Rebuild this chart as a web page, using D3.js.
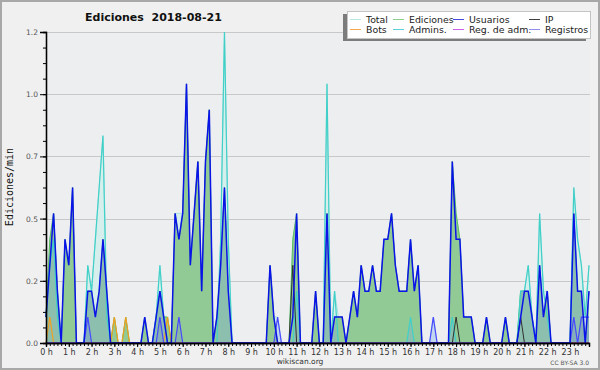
<!DOCTYPE html>
<html>
<head>
<meta charset="utf-8">
<script src="https://cdn.jsdelivr.net/npm/d3@7"></script>
<style>
	body { margin: 0; background: #ffffff; }
	svg { display: block; }
</style>
</head>
<body>
<div id="chart"></div>
<script>

// one value every 10 minutes, 144 per day (edits per minute)
var usuarios = [
	0.1,0.3,0.5,0.2,0,0.4,
	0.3,0.6,0,0,0,0.2,
	0.2,0.1,0.2,0.4,0.2,0,
	0,0,0,0,0,0,
	0,0,0.1,0,0,0.1,
	0.2,0.1,0,0,0.5,0.4,
	0.5,1.0,0.3,0.5,0.7,0.2,
	0.7,0.9,0,0.1,0.3,0.6,
	0.2,0,0,0,0,0,
	0,0,0,0,0,0.3,
	0.1,0,0,0,0,0.1,
	0.5,0,0,0,0,0.2,
	0,0,0.5,0,0.1,0.1,
	0.1,0,0.1,0.2,0.1,0.3,
	0.2,0.2,0.3,0.2,0.2,0.4,
	0.4,0.5,0.3,0.2,0.2,0.2,
	0.4,0.2,0.3,0,0,0,
	0,0,0,0,0,0.7,
	0.4,0.4,0.1,0.1,0.1,0,
	0,0,0.1,0,0,0,
	0,0.1,0,0,0,0.1,
	0.2,0.2,0.1,0,0.3,0.1,
	0.2,0,0,0,0,0,
	0,0.5,0.2,0.2,0,0.2
];

var ediciones = [
	0.1,0.4,0.5,0.2,0,0.4,
	0.3,0.6,0,0,0,0.2,
	0.2,0.1,0.2,0.4,0.2,0,
	0.1,0,0,0.1,0,0,
	0,0,0.1,0,0,0.1,
	0.2,0.1,0.1,0,0.5,0.4,
	0.5,1.0,0.3,0.5,0.7,0.2,
	0.7,0.9,0,0.1,0.3,0.6,
	0.2,0,0,0,0,0,
	0,0,0,0,0,0.3,
	0.1,0,0,0,0,0.4,
	0.5,0,0,0,0,0.2,
	0,0,0.5,0,0.1,0.1,
	0.1,0,0.1,0.2,0.1,0.3,
	0.2,0.2,0.3,0.2,0.2,0.4,
	0.4,0.5,0.3,0.2,0.2,0.2,
	0.4,0.2,0.3,0,0,0,
	0,0,0,0,0,0.7,
	0.5,0.4,0.1,0.1,0.1,0,
	0,0,0.1,0,0,0,
	0,0.1,0,0,0,0.2,
	0.2,0.2,0.1,0,0.3,0.1,
	0.2,0,0,0,0,0,
	0,0.5,0.2,0.2,0,0.2
];

var total = [
	0.1,0.4,0.5,0.2,0,0.4,
	0.3,0.6,0,0,0,0.3,
	0.2,0.4,0.6,0.8,0.2,0,
	0.1,0,0,0.1,0,0,
	0,0,0.1,0,0,0.1,
	0.3,0.1,0.1,0,0.5,0.5,
	0.5,1.0,0.3,0.5,0.7,0.2,
	0.7,0.9,0,0.1,0.4,1.2,
	0.4,0,0,0,0,0,
	0,0,0,0,0,0.3,
	0.1,0.1,0,0,0,0.4,
	0.5,0,0,0,0,0.2,
	0,0,1.0,0,0.2,0.1,
	0.1,0,0.1,0.2,0.1,0.3,
	0.2,0.2,0.3,0.2,0.2,0.4,
	0.4,0.5,0.3,0.2,0.2,0.2,
	0.4,0.2,0.3,0,0,0,
	0.1,0,0,0,0,0.7,
	0.5,0.4,0.1,0.1,0.1,0,
	0,0,0.1,0,0,0,
	0,0.1,0,0,0,0.2,
	0.2,0.3,0.1,0,0.5,0.2,
	0.2,0,0,0,0,0,
	0,0.6,0.4,0.3,0.1,0.3
];

var admins = [
	0.1,0.3,0.4,0.1,0,0,
	0,0,0,0,0,0.3,
	0.2,0.4,0.6,0.8,0.1,0,
	0,0,0,0,0,0,
	0,0,0,0,0,0.1,
	0.3,0.1,0,0,0,0,
	0,0,0,0,0,0,
	0,0,0,0,0.4,1.2,
	0.4,0,0,0,0,0,
	0,0,0,0,0,0,
	0,0,0,0,0,0,
	0.2,0,0,0,0,0,
	0,0,1.0,0,0.2,0,
	0,0,0,0,0,0,
	0,0,0,0,0,0,
	0,0,0,0,0,0,
	0.1,0,0,0,0,0,
	0,0,0,0,0,0.1,
	0,0,0,0,0,0,
	0,0,0,0,0,0,
	0,0,0,0,0,0.2,
	0.2,0.3,0.1,0,0.5,0.2,
	0.1,0,0,0,0,0,
	0,0.6,0.4,0.3,0.1,0.3
];

var bots = [
	0,0.1,0,0,0,0,
	0,0,0,0,0,0,
	0,0,0,0,0,0,
	0.1,0,0,0.1,0,0,
	0,0,0,0,0,0,
	0,0,0.1,0,0,0,
	0,0,0,0,0,0,
	0,0,0,0,0,0,
	0,0,0,0,0,0,
	0,0,0,0,0,0,
	0,0,0,0,0,0,
	0,0,0,0,0,0,
	0,0,0,0,0,0,
	0,0,0,0,0,0,
	0,0,0,0,0,0,
	0,0,0,0,0,0,
	0,0,0,0,0,0,
	0,0,0,0,0,0,
	0,0,0,0,0,0,
	0,0,0,0,0,0,
	0,0,0,0,0,0,
	0,0,0,0,0,0,
	0,0,0,0,0,0,
	0,0,0,0,0,0
];

var ip = [
	0,0,0,0,0,0,
	0,0,0,0,0,0,
	0,0,0,0,0,0,
	0,0,0,0,0,0,
	0,0,0,0,0,0,
	0,0,0,0,0,0,
	0,0,0,0,0,0,
	0,0,0,0,0,0,
	0,0,0,0,0,0,
	0,0,0,0,0,0,
	0,0,0,0,0,0.3,
	0,0,0,0,0,0,
	0,0,0,0,0,0,
	0,0,0,0,0,0,
	0,0,0,0,0,0,
	0,0,0,0,0,0,
	0,0,0,0,0,0,
	0,0,0,0,0,0,
	0.1,0,0,0,0,0,
	0,0,0,0,0,0,
	0,0,0,0,0,0.1,
	0,0,0,0,0,0,
	0,0,0,0,0,0,
	0,0,0,0,0,0
];

var regAdm = [
	0,0,0,0,0,0, 0,0,0,0,0,0, 0,0,0,0,0,0, 0,0,0,0,0,0,
	0,0,0,0,0,0, 0,0,0,0,0,0, 0,0,0,0,0,0, 0,0,0,0,0,0,
	0,0,0,0,0,0, 0,0,0,0,0,0, 0,0,0,0,0,0, 0,0,0,0,0,0,
	0,0,0,0,0,0, 0,0,0,0,0,0, 0,0,0,0,0,0, 0,0,0,0,0,0,
	0,0,0,0,0,0, 0,0,0,0,0,0, 0,0,0,0,0,0, 0,0,0,0,0,0,
	0,0,0,0,0,0, 0,0,0,0,0,0, 0,0,0,0,0,0, 0,0,0,0,0,0
];

var registros = [
	0,0,0,0,0,0,
	0,0,0,0,0,0.1,
	0,0,0,0,0,0,
	0,0,0,0,0,0,
	0,0,0,0,0,0,
	0.1,0,0,0,0,0.1,
	0,0,0,0,0,0,
	0,0,0,0,0,0,
	0,0,0,0,0,0,
	0,0,0,0,0,0,
	0,0.1,0,0,0,0,
	0,0,0,0,0,0,
	0,0,0,0,0,0,
	0,0,0,0,0,0,
	0,0,0,0,0,0,
	0,0,0,0,0,0,
	0,0,0,0,0,0,
	0.1,0,0,0,0,0,
	0,0,0,0,0,0,
	0,0,0,0,0,0,
	0,0,0,0,0,0,
	0,0,0,0,0,0,
	0,0,0,0,0,0,
	0,0.1,0,0.1,0.1,0.1
];

// tick values (labels are rounded to one decimal as in the original)
var yTicks = [0, 0.24, 0.48, 0.72, 0.96, 1.2];
var hourLabels = ["0 h","1 h","2 h","3 h","4 h","5 h","6 h","7 h","8 h","9 h","10 h","11 h",
	"12 h","13 h","14 h","15 h","16 h","17 h","18 h","19 h","20 h","21 h","22 h","23 h"];

// legend entries, column by column
var legendNames = ["Total", "Bots", "Ediciones", "Admins.", "Usuarios", "Reg. de adm.", "IP", "Registros"];
var legendColors = ["#b4e6e4", "#f4a850", "#8cd08c", "#5cd0dc", "#4848e0", "#cc60e8", "#404040", "#9090f0"];

var width = 600, height = 370;
var plot = { left: 46, right: 589, top: 32, bottom: 343 };

var svg = d3.select("#chart").append("svg")
	.attr("width", width)
	.attr("height", height);

// page background and frame
svg.append("rect")
	.attr("x", 1).attr("y", 1)
	.attr("width", width - 2).attr("height", height - 2)
	.attr("fill", "#f0f0f0")
	.attr("stroke", "#a8a8a8")
	.attr("stroke-width", 2);

// plot background
svg.append("rect")
	.attr("x", plot.left).attr("y", plot.top)
	.attr("width", plot.right - plot.left + 1).attr("height", plot.bottom - plot.top)
	.attr("fill", "#eceef0");

// scales
var x = d3.scaleLinear().domain([0, 143]).range([plot.left, plot.right]);
var y = d3.scaleLinear().domain([0, 1.2]).range([plot.bottom, plot.top]);

// horizontal grid
svg.append("g").selectAll("line")
	.data(yTicks.slice(1))
	.join("line")
		.attr("x1", plot.left).attr("x2", plot.right + 1)
		.attr("y1", function(d) { return Math.round(y(d)) + 0.5; })
		.attr("y2", function(d) { return Math.round(y(d)) + 0.5; })
		.attr("stroke", "#c8c8c8")
		.attr("stroke-width", 1);

/**
 * builds an area path for a series
 */
function areaOf(values)
{
	return d3.area()
		.x(function(d, i) { return x(i); })
		.y0(y(0))
		.y1(function(d) { return y(d); })(values);
}

/**
 * builds a line path for a series
 */
function lineOf(values)
{
	return d3.line()
		.x(function(d, i) { return x(i); })
		.y(function(d) { return y(d); })(values);
}

var g = svg.append("g");

// total: pale fill with pale line
g.append("path").attr("d", areaOf(total)).attr("fill", "#d6efec");
g.append("path").attr("d", lineOf(total)).attr("fill", "none").attr("stroke", "#a8e2e0").attr("stroke-width", 1);

// ediciones: green area
g.append("path").attr("d", areaOf(ediciones)).attr("fill", "#92ca96");
g.append("path").attr("d", lineOf(ediciones)).attr("fill", "none").attr("stroke", "#5cbc5c").attr("stroke-width", 1);

// part of the edits made by admins shows a bit greyer
var adminEdits = admins.map(function(d, i) { return Math.min(d, ediciones[i]); });
g.append("path").attr("d", areaOf(adminEdits)).attr("fill", "#8dbfae");

// registros: faint fill
g.append("path").attr("d", areaOf(registros)).attr("fill", "#5050ff").attr("fill-opacity", 0.15);

// the other lines
var lineSeries = [
	{ v: admins, c: "#40d0c8", w: 1.2 },
	{ v: bots, c: "#f0a020", w: 1.2 },
	{ v: ip, c: "#303030", w: 1 },
	{ v: regAdm, c: "#c040e0", w: 1 },
	{ v: registros, c: "#4848ff", w: 1.2 },
	{ v: usuarios, c: "#0a14e8", w: 1.5 }
];
lineSeries.forEach(function(s)
{
	g.append("path")
		.attr("d", lineOf(s.v))
		.attr("fill", "none")
		.attr("stroke", s.c)
		.attr("stroke-width", s.w)
		.attr("stroke-linejoin", "miter");
});

// y axis, major ticks with labels
var yAxis = svg.append("g")
	.attr("transform", "translate(" + plot.left + ",0)")
	.call(d3.axisLeft(y).tickValues(yTicks).tickSize(6).tickPadding(2)
		.tickFormat(function(d) { return d.toFixed(1); }));

// y axis minor ticks
svg.append("g")
	.attr("transform", "translate(" + plot.left + ",0)")
	.call(d3.axisLeft(y).tickValues(d3.range(0, 1.21, 0.06)).tickSize(3).tickFormat(""));

// x axis minor ticks every 10 minutes
svg.append("g")
	.attr("transform", "translate(0," + plot.bottom + ")")
	.call(d3.axisBottom(x).tickValues(d3.range(0, 144)).tickSize(3).tickFormat(""));

// x axis hour labels
var xAxis = svg.append("g")
	.attr("transform", "translate(0," + plot.bottom + ")")
	.call(d3.axisBottom(x).tickValues(d3.range(0, 144, 6)).tickSize(4).tickPadding(2)
		.tickFormat(function(d) { return hourLabels[d / 6]; }));

// axis styling
svg.selectAll(".domain").attr("stroke", "#000").attr("stroke-width", 1.3);
svg.selectAll(".tick line").attr("stroke", "#000");
svg.selectAll(".tick text")
	.attr("font-family", "DejaVu Sans")
	.attr("fill", "#333");
yAxis.selectAll(".tick text").attr("font-size", 7.5).attr("fill", "#555");
xAxis.selectAll(".tick text").attr("font-size", 8);

// y axis title
svg.append("text")
	.attr("transform", "translate(13,187) rotate(-90)")
	.attr("text-anchor", "middle")
	.attr("font-family", "DejaVu Sans Mono")
	.attr("font-size", 10)
	.attr("fill", "#111")
	.text("Ediciones/min");

// chart title
svg.append("text")
	.attr("x", 85).attr("y", 21)
	.attr("font-family", "DejaVu Sans")
	.attr("font-weight", "bold")
	.attr("font-size", 11)
	.attr("fill", "#111")
	.style("white-space", "pre")
	.text("Ediciones  2018-08-21");

// footer texts
svg.append("text")
	.attr("x", 300).attr("y", 364)
	.attr("text-anchor", "middle")
	.attr("font-family", "DejaVu Sans")
	.attr("font-size", 7.5)
	.attr("fill", "#333")
	.text("wikiscan.org");

svg.append("text")
	.attr("x", 589).attr("y", 365)
	.attr("text-anchor", "end")
	.attr("font-family", "DejaVu Sans")
	.attr("font-size", 6)
	.attr("fill", "#555")
	.text("CC BY-SA 3.0");

// legend box with its shadow
var legend = { x: 347, y: 11, w: 243, h: 27 };
svg.append("rect")
	.attr("x", legend.x - 4).attr("y", legend.y + 3)
	.attr("width", legend.w).attr("height", legend.h)
	.attr("fill", "#7c7c7c");
svg.append("rect")
	.attr("x", legend.x + 0.5).attr("y", legend.y + 0.5)
	.attr("width", legend.w).attr("height", legend.h)
	.attr("fill", "#ffffff")
	.attr("stroke", "#c4c4c4");

var colX = [350, 393, 453, 529];
var rowY = [19, 29];

legendNames.forEach(function(name, k)
{
	var cx = colX[Math.floor(k / 2)];
	var cy = rowY[k % 2];

	svg.append("line")
		.attr("x1", cx).attr("x2", cx + 11)
		.attr("y1", cy + 0.5).attr("y2", cy + 0.5)
		.attr("stroke", legendColors[k])
		.attr("stroke-width", 1);

	svg.append("text")
		.attr("x", cx + 16).attr("y", cy + 3.7)
		.attr("font-family", "DejaVu Sans")
		.attr("font-size", 9.4)
		.attr("fill", "#222")
		.text(name);
});

</script>
</body>
</html>
